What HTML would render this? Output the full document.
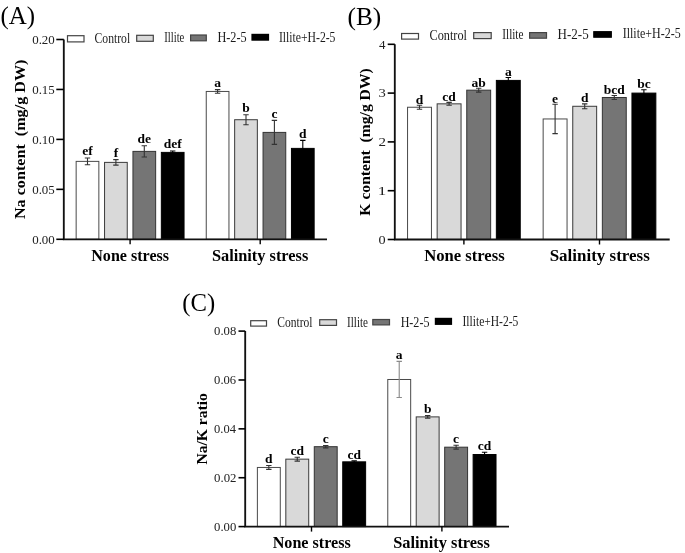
<!DOCTYPE html>
<html><head><meta charset="utf-8"><style>
html,body{margin:0;padding:0;background:#fff;}
body{width:685px;height:553px;overflow:hidden;}
svg{display:block;filter:blur(0.35px);}
</style></head><body>
<svg width="685" height="553" viewBox="0 0 685 553">
<rect width="685" height="553" fill="#fff"/>
<rect x="76.15" y="161.38" width="22.70" height="77.92" fill="#ffffff" stroke="#4a4a4a" stroke-width="1"/>
<path d="M87.50 157.98V164.77M84.80 157.98H90.20M84.80 164.77H90.20" stroke="#333" stroke-width="1.1" fill="none"/>
<text x="87.50" y="155.48" text-anchor="middle" font-family='"Liberation Serif", serif' font-weight="bold" font-size="13.5">ef</text>
<rect x="104.55" y="162.38" width="22.70" height="76.92" fill="#d9d9d9" stroke="#3a3a3a" stroke-width="1"/>
<path d="M115.90 159.58V165.17M113.20 159.58H118.60M113.20 165.17H118.60" stroke="#333" stroke-width="1.1" fill="none"/>
<text x="115.90" y="157.08" text-anchor="middle" font-family='"Liberation Serif", serif' font-weight="bold" font-size="13.5">f</text>
<rect x="132.95" y="151.39" width="22.70" height="87.91" fill="#757575" stroke="#333" stroke-width="1"/>
<path d="M144.30 145.79V156.98M141.60 145.79H147.00M141.60 156.98H147.00" stroke="#333" stroke-width="1.1" fill="none"/>
<text x="144.30" y="143.29" text-anchor="middle" font-family='"Liberation Serif", serif' font-weight="bold" font-size="13.5">de</text>
<rect x="161.35" y="152.39" width="22.70" height="86.91" fill="#000000" stroke="#000" stroke-width="1"/>
<path d="M172.70 150.99V153.79M170.00 150.99H175.40M170.00 153.79H175.40" stroke="#000" stroke-width="1.1" fill="none"/>
<text x="172.70" y="148.49" text-anchor="middle" font-family='"Liberation Serif", serif' font-weight="bold" font-size="13.5">def</text>
<rect x="206.25" y="91.45" width="22.70" height="147.85" fill="#ffffff" stroke="#4a4a4a" stroke-width="1"/>
<path d="M217.60 89.65V93.25M214.90 89.65H220.30M214.90 93.25H220.30" stroke="#333" stroke-width="1.1" fill="none"/>
<text x="217.60" y="87.15" text-anchor="middle" font-family='"Liberation Serif", serif' font-weight="bold" font-size="13.5">a</text>
<rect x="234.65" y="119.72" width="22.70" height="119.58" fill="#d9d9d9" stroke="#3a3a3a" stroke-width="1"/>
<path d="M246.00 114.72V124.71M243.30 114.72H248.70M243.30 124.71H248.70" stroke="#333" stroke-width="1.1" fill="none"/>
<text x="246.00" y="112.22" text-anchor="middle" font-family='"Liberation Serif", serif' font-weight="bold" font-size="13.5">b</text>
<rect x="263.05" y="132.41" width="22.70" height="106.89" fill="#757575" stroke="#333" stroke-width="1"/>
<path d="M274.40 120.42V144.40M271.70 120.42H277.10M271.70 144.40H277.10" stroke="#333" stroke-width="1.1" fill="none"/>
<text x="274.40" y="117.92" text-anchor="middle" font-family='"Liberation Serif", serif' font-weight="bold" font-size="13.5">c</text>
<rect x="291.45" y="148.39" width="22.70" height="90.91" fill="#000000" stroke="#000" stroke-width="1"/>
<path d="M302.80 140.40V156.38M300.10 140.40H305.50M300.10 156.38H305.50" stroke="#000" stroke-width="1.1" fill="none"/>
<text x="302.80" y="137.90" text-anchor="middle" font-family='"Liberation Serif", serif' font-weight="bold" font-size="13.5">d</text>
<path d="M63.80 39.50V239.30H327.00" stroke="#111" stroke-width="1.85" fill="none"/>
<path d="M56.30 239.30H63.80" stroke="#000" stroke-width="1.6"/>
<text x="32.18" y="243.50" textLength="22.63" lengthAdjust="spacingAndGlyphs" font-family='"Liberation Serif", serif' font-size="13.3" fill="#222" xml:space="preserve">0.00</text>
<path d="M56.30 189.35H63.80" stroke="#000" stroke-width="1.6"/>
<text x="32.18" y="193.55" textLength="22.63" lengthAdjust="spacingAndGlyphs" font-family='"Liberation Serif", serif' font-size="13.3" fill="#222" xml:space="preserve">0.05</text>
<path d="M56.30 139.40H63.80" stroke="#000" stroke-width="1.6"/>
<text x="32.18" y="143.60" textLength="22.63" lengthAdjust="spacingAndGlyphs" font-family='"Liberation Serif", serif' font-size="13.3" fill="#222" xml:space="preserve">0.10</text>
<path d="M56.30 89.45H63.80" stroke="#000" stroke-width="1.6"/>
<text x="32.18" y="93.65" textLength="22.63" lengthAdjust="spacingAndGlyphs" font-family='"Liberation Serif", serif' font-size="13.3" fill="#222" xml:space="preserve">0.15</text>
<path d="M56.30 39.50H63.80" stroke="#000" stroke-width="1.6"/>
<text x="32.18" y="43.70" textLength="22.63" lengthAdjust="spacingAndGlyphs" font-family='"Liberation Serif", serif' font-size="13.3" fill="#222" xml:space="preserve">0.20</text>
<path d="M130.10 239.30V244.30" stroke="#000" stroke-width="1.4"/>
<path d="M260.20 239.30V244.30" stroke="#000" stroke-width="1.4"/>
<text x="91.28" y="260.60" textLength="77.78" lengthAdjust="spacingAndGlyphs" font-family='"Liberation Serif", serif' font-weight="bold" font-size="16" fill="#000" xml:space="preserve">None stress</text>
<text x="211.90" y="260.60" textLength="96.39" lengthAdjust="spacingAndGlyphs" font-family='"Liberation Serif", serif' font-weight="bold" font-size="16" fill="#000" xml:space="preserve">Salinity stress</text>
<text transform="translate(25.20 219.02) rotate(-90)" x="0" y="0" textLength="159.41" lengthAdjust="spacingAndGlyphs" font-family='"Liberation Serif", serif' font-weight="bold" font-size="15.3" fill="#000" xml:space="preserve">Na content  (mg/g DW)</text>
<rect x="67.50" y="35.70" width="16.50" height="6.20" fill="#ffffff" stroke="#444" stroke-width="1.2"/>
<text x="94.53" y="43.00" textLength="35.65" lengthAdjust="spacingAndGlyphs" font-family='"Liberation Serif", serif' font-size="14" fill="#1a1a1a" xml:space="preserve">Control</text>
<rect x="136.70" y="35.30" width="16.60" height="6.00" fill="#d9d9d9" stroke="#444" stroke-width="1.2"/>
<text x="164.23" y="42.47" textLength="20.13" lengthAdjust="spacingAndGlyphs" font-family='"Liberation Serif", serif' font-size="14" fill="#1a1a1a" xml:space="preserve">Illite</text>
<rect x="190.60" y="35.00" width="15.70" height="5.80" fill="#757575" stroke="#444" stroke-width="1.2"/>
<text x="217.43" y="42.07" textLength="29.24" lengthAdjust="spacingAndGlyphs" font-family='"Liberation Serif", serif' font-size="14" fill="#1a1a1a" xml:space="preserve">H-2-5</text>
<rect x="252.00" y="34.40" width="16.50" height="5.70" fill="#000000" stroke="#000" stroke-width="1.2"/>
<text x="278.89" y="41.60" textLength="56.58" lengthAdjust="spacingAndGlyphs" font-family='"Liberation Serif", serif' font-size="14" fill="#1a1a1a" xml:space="preserve">Illite+H-2-5</text>
<text x="0.48" y="24.00" textLength="34.60" lengthAdjust="spacingAndGlyphs" font-family='"Liberation Serif", serif' font-size="25" fill="#000" xml:space="preserve">(A)</text>
<rect x="407.55" y="107.25" width="23.90" height="132.25" fill="#ffffff" stroke="#4a4a4a" stroke-width="1"/>
<path d="M419.50 105.30V109.20M416.80 105.30H422.20M416.80 109.20H422.20" stroke="#333" stroke-width="1.1" fill="none"/>
<text x="419.50" y="103.70" text-anchor="middle" font-family='"Liberation Serif", serif' font-weight="bold" font-size="13.5">d</text>
<rect x="437.15" y="103.84" width="23.90" height="135.66" fill="#d9d9d9" stroke="#3a3a3a" stroke-width="1"/>
<path d="M449.10 102.37V105.30M446.40 102.37H451.80M446.40 105.30H451.80" stroke="#333" stroke-width="1.1" fill="none"/>
<text x="449.10" y="100.77" text-anchor="middle" font-family='"Liberation Serif", serif' font-weight="bold" font-size="13.5">cd</text>
<rect x="466.75" y="90.17" width="23.90" height="149.33" fill="#757575" stroke="#333" stroke-width="1"/>
<path d="M478.70 88.22V92.12M476.00 88.22H481.40M476.00 92.12H481.40" stroke="#333" stroke-width="1.1" fill="none"/>
<text x="478.70" y="86.62" text-anchor="middle" font-family='"Liberation Serif", serif' font-weight="bold" font-size="13.5">ab</text>
<rect x="496.35" y="80.41" width="23.90" height="159.09" fill="#000000" stroke="#000" stroke-width="1"/>
<path d="M508.30 77.48V83.34M505.60 77.48H511.00M505.60 83.34H511.00" stroke="#000" stroke-width="1.1" fill="none"/>
<text x="508.30" y="75.88" text-anchor="middle" font-family='"Liberation Serif", serif' font-weight="bold" font-size="13.5">a</text>
<rect x="543.15" y="118.96" width="23.90" height="120.54" fill="#ffffff" stroke="#4a4a4a" stroke-width="1"/>
<path d="M555.10 104.32V133.60M552.40 104.32H557.80M552.40 133.60H557.80" stroke="#333" stroke-width="1.1" fill="none"/>
<text x="555.10" y="102.72" text-anchor="middle" font-family='"Liberation Serif", serif' font-weight="bold" font-size="13.5">e</text>
<rect x="572.75" y="106.28" width="23.90" height="133.22" fill="#d9d9d9" stroke="#3a3a3a" stroke-width="1"/>
<path d="M584.70 103.84V108.72M582.00 103.84H587.40M582.00 108.72H587.40" stroke="#333" stroke-width="1.1" fill="none"/>
<text x="584.70" y="102.24" text-anchor="middle" font-family='"Liberation Serif", serif' font-weight="bold" font-size="13.5">d</text>
<rect x="602.35" y="97.49" width="23.90" height="142.01" fill="#757575" stroke="#333" stroke-width="1"/>
<path d="M614.30 95.54V99.44M611.60 95.54H617.00M611.60 99.44H617.00" stroke="#333" stroke-width="1.1" fill="none"/>
<text x="614.30" y="93.94" text-anchor="middle" font-family='"Liberation Serif", serif' font-weight="bold" font-size="13.5">bcd</text>
<rect x="631.95" y="93.10" width="23.90" height="146.40" fill="#000000" stroke="#000" stroke-width="1"/>
<path d="M643.90 89.68V96.52M641.20 89.68H646.60M641.20 96.52H646.60" stroke="#000" stroke-width="1.1" fill="none"/>
<text x="643.90" y="88.08" text-anchor="middle" font-family='"Liberation Serif", serif' font-weight="bold" font-size="13.5">bc</text>
<path d="M394.80 44.30V239.50H669.70" stroke="#111" stroke-width="1.85" fill="none"/>
<path d="M387.70 239.50H394.80" stroke="#000" stroke-width="1.6"/>
<text x="378.63" y="243.70" textLength="7.14" lengthAdjust="spacingAndGlyphs" font-family='"Liberation Serif", serif' font-size="13.3" fill="#222" xml:space="preserve">0</text>
<path d="M387.70 190.70H394.80" stroke="#000" stroke-width="1.6"/>
<text x="377.66" y="194.90" textLength="8.57" lengthAdjust="spacingAndGlyphs" font-family='"Liberation Serif", serif' font-size="13.3" fill="#222" xml:space="preserve">1</text>
<path d="M387.70 141.90H394.80" stroke="#000" stroke-width="1.6"/>
<text x="378.52" y="146.10" textLength="7.50" lengthAdjust="spacingAndGlyphs" font-family='"Liberation Serif", serif' font-size="13.3" fill="#222" xml:space="preserve">2</text>
<path d="M387.70 93.10H394.80" stroke="#000" stroke-width="1.6"/>
<text x="378.47" y="97.30" textLength="7.32" lengthAdjust="spacingAndGlyphs" font-family='"Liberation Serif", serif' font-size="13.3" fill="#222" xml:space="preserve">3</text>
<path d="M387.70 44.30H394.80" stroke="#000" stroke-width="1.6"/>
<text x="378.94" y="48.50" textLength="6.45" lengthAdjust="spacingAndGlyphs" font-family='"Liberation Serif", serif' font-size="13.3" fill="#222" xml:space="preserve">4</text>
<path d="M463.90 239.50V244.50" stroke="#000" stroke-width="1.4"/>
<path d="M599.50 239.50V244.50" stroke="#000" stroke-width="1.4"/>
<text x="424.17" y="260.50" textLength="80.50" lengthAdjust="spacingAndGlyphs" font-family='"Liberation Serif", serif' font-weight="bold" font-size="16.4" fill="#000" xml:space="preserve">None stress</text>
<text x="549.67" y="260.50" textLength="100.14" lengthAdjust="spacingAndGlyphs" font-family='"Liberation Serif", serif' font-weight="bold" font-size="16.4" fill="#000" xml:space="preserve">Salinity stress</text>
<text transform="translate(370.00 215.63) rotate(-90)" x="0" y="0" textLength="147.31" lengthAdjust="spacingAndGlyphs" font-family='"Liberation Serif", serif' font-weight="bold" font-size="15.5" fill="#000" xml:space="preserve">K content  (mg/g DW)</text>
<rect x="401.60" y="33.50" width="16.90" height="5.60" fill="#ffffff" stroke="#444" stroke-width="1.2"/>
<text x="429.51" y="40.10" textLength="37.48" lengthAdjust="spacingAndGlyphs" font-family='"Liberation Serif", serif' font-size="14" fill="#1a1a1a" xml:space="preserve">Control</text>
<rect x="473.70" y="32.60" width="17.50" height="6.00" fill="#d9d9d9" stroke="#444" stroke-width="1.2"/>
<text x="502.31" y="39.38" textLength="21.16" lengthAdjust="spacingAndGlyphs" font-family='"Liberation Serif", serif' font-size="14" fill="#1a1a1a" xml:space="preserve">Illite</text>
<rect x="529.60" y="32.60" width="16.90" height="5.60" fill="#757575" stroke="#444" stroke-width="1.2"/>
<text x="557.61" y="38.84" textLength="31.09" lengthAdjust="spacingAndGlyphs" font-family='"Liberation Serif", serif' font-size="14" fill="#1a1a1a" xml:space="preserve">H-2-5</text>
<rect x="593.80" y="31.70" width="17.50" height="5.50" fill="#000000" stroke="#000" stroke-width="1.2"/>
<text x="622.68" y="38.20" textLength="58.00" lengthAdjust="spacingAndGlyphs" font-family='"Liberation Serif", serif' font-size="14" fill="#1a1a1a" xml:space="preserve">Illite+H-2-5</text>
<text x="347.46" y="25.30" textLength="33.73" lengthAdjust="spacingAndGlyphs" font-family='"Liberation Serif", serif' font-size="25" fill="#000" xml:space="preserve">(B)</text>
<rect x="257.38" y="467.46" width="22.90" height="59.14" fill="#ffffff" stroke="#4a4a4a" stroke-width="1"/>
<path d="M268.82 465.51V469.42M266.12 465.51H271.52M266.12 469.42H271.52" stroke="#333" stroke-width="1.1" fill="none"/>
<text x="268.82" y="463.31" text-anchor="middle" font-family='"Liberation Serif", serif' font-weight="bold" font-size="13.5">d</text>
<rect x="285.82" y="459.15" width="22.90" height="67.45" fill="#d9d9d9" stroke="#3a3a3a" stroke-width="1"/>
<path d="M297.27 457.20V461.11M294.57 457.20H299.97M294.57 461.11H299.97" stroke="#333" stroke-width="1.1" fill="none"/>
<text x="297.27" y="455.00" text-anchor="middle" font-family='"Liberation Serif", serif' font-weight="bold" font-size="13.5">cd</text>
<rect x="314.28" y="446.69" width="22.90" height="79.91" fill="#757575" stroke="#333" stroke-width="1"/>
<path d="M325.73 445.47V447.91M323.03 445.47H328.43M323.03 447.91H328.43" stroke="#333" stroke-width="1.1" fill="none"/>
<text x="325.73" y="443.27" text-anchor="middle" font-family='"Liberation Serif", serif' font-weight="bold" font-size="13.5">c</text>
<rect x="342.73" y="461.84" width="22.90" height="64.76" fill="#000000" stroke="#000" stroke-width="1"/>
<path d="M354.18 460.86V462.82M351.48 460.86H356.88M351.48 462.82H356.88" stroke="#000" stroke-width="1.1" fill="none"/>
<text x="354.18" y="458.66" text-anchor="middle" font-family='"Liberation Serif", serif' font-weight="bold" font-size="13.5">cd</text>
<rect x="387.77" y="379.49" width="22.90" height="147.11" fill="#ffffff" stroke="#4a4a4a" stroke-width="1"/>
<path d="M399.22 361.40V397.57M396.52 361.40H401.92M396.52 397.57H401.92" stroke="#8a8a8a" stroke-width="1.1" fill="none"/>
<text x="399.22" y="359.20" text-anchor="middle" font-family='"Liberation Serif", serif' font-weight="bold" font-size="13.5">a</text>
<rect x="416.22" y="416.88" width="22.90" height="109.72" fill="#d9d9d9" stroke="#3a3a3a" stroke-width="1"/>
<path d="M427.67 415.65V418.10M424.97 415.65H430.37M424.97 418.10H430.37" stroke="#333" stroke-width="1.1" fill="none"/>
<text x="427.67" y="413.45" text-anchor="middle" font-family='"Liberation Serif", serif' font-weight="bold" font-size="13.5">b</text>
<rect x="444.68" y="447.18" width="22.90" height="79.42" fill="#757575" stroke="#333" stroke-width="1"/>
<path d="M456.12 445.22V449.13M453.43 445.22H458.82M453.43 449.13H458.82" stroke="#333" stroke-width="1.1" fill="none"/>
<text x="456.12" y="443.02" text-anchor="middle" font-family='"Liberation Serif", serif' font-weight="bold" font-size="13.5">c</text>
<rect x="473.12" y="454.51" width="22.90" height="72.09" fill="#000000" stroke="#000" stroke-width="1"/>
<path d="M484.57 452.31V456.71M481.88 452.31H487.27M481.88 456.71H487.27" stroke="#000" stroke-width="1.1" fill="none"/>
<text x="484.57" y="450.11" text-anchor="middle" font-family='"Liberation Serif", serif' font-weight="bold" font-size="13.5">cd</text>
<path d="M245.20 331.10V526.60H509.00" stroke="#111" stroke-width="1.85" fill="none"/>
<path d="M238.50 526.60H245.20" stroke="#000" stroke-width="1.6"/>
<text x="214.09" y="530.80" textLength="22.22" lengthAdjust="spacingAndGlyphs" font-family='"Liberation Serif", serif' font-size="13.3" fill="#222" xml:space="preserve">0.00</text>
<path d="M238.50 477.73H245.20" stroke="#000" stroke-width="1.6"/>
<text x="214.09" y="481.93" textLength="22.42" lengthAdjust="spacingAndGlyphs" font-family='"Liberation Serif", serif' font-size="13.3" fill="#222" xml:space="preserve">0.02</text>
<path d="M238.50 428.85H245.20" stroke="#000" stroke-width="1.6"/>
<text x="214.10" y="433.05" textLength="21.89" lengthAdjust="spacingAndGlyphs" font-family='"Liberation Serif", serif' font-size="13.3" fill="#222" xml:space="preserve">0.04</text>
<path d="M238.50 379.98H245.20" stroke="#000" stroke-width="1.6"/>
<text x="214.10" y="384.18" textLength="22.08" lengthAdjust="spacingAndGlyphs" font-family='"Liberation Serif", serif' font-size="13.3" fill="#222" xml:space="preserve">0.06</text>
<path d="M238.50 331.10H245.20" stroke="#000" stroke-width="1.6"/>
<text x="214.09" y="335.30" textLength="22.22" lengthAdjust="spacingAndGlyphs" font-family='"Liberation Serif", serif' font-size="13.3" fill="#222" xml:space="preserve">0.08</text>
<path d="M311.50 526.60V531.60" stroke="#000" stroke-width="1.4"/>
<path d="M441.90 526.60V531.60" stroke="#000" stroke-width="1.4"/>
<text x="272.68" y="547.60" textLength="78.08" lengthAdjust="spacingAndGlyphs" font-family='"Liberation Serif", serif' font-weight="bold" font-size="16" fill="#000" xml:space="preserve">None stress</text>
<text x="393.20" y="547.60" textLength="96.69" lengthAdjust="spacingAndGlyphs" font-family='"Liberation Serif", serif' font-weight="bold" font-size="16" fill="#000" xml:space="preserve">Salinity stress</text>
<text transform="translate(207.00 464.61) rotate(-90)" x="0" y="0" textLength="71.50" lengthAdjust="spacingAndGlyphs" font-family='"Liberation Serif", serif' font-weight="bold" font-size="15.4" fill="#000" xml:space="preserve">Na/K ratio</text>
<rect x="250.70" y="320.70" width="15.80" height="5.40" fill="#ffffff" stroke="#444" stroke-width="1.2"/>
<text x="277.34" y="327.30" textLength="35.24" lengthAdjust="spacingAndGlyphs" font-family='"Liberation Serif", serif' font-size="14" fill="#1a1a1a" xml:space="preserve">Control</text>
<rect x="319.70" y="319.70" width="16.80" height="5.70" fill="#d9d9d9" stroke="#444" stroke-width="1.2"/>
<text x="347.11" y="326.89" textLength="20.85" lengthAdjust="spacingAndGlyphs" font-family='"Liberation Serif", serif' font-size="14" fill="#1a1a1a" xml:space="preserve">Illite</text>
<rect x="372.80" y="319.50" width="16.70" height="5.40" fill="#757575" stroke="#444" stroke-width="1.2"/>
<text x="400.64" y="326.57" textLength="28.82" lengthAdjust="spacingAndGlyphs" font-family='"Liberation Serif", serif' font-size="14" fill="#1a1a1a" xml:space="preserve">H-2-5</text>
<rect x="435.40" y="318.40" width="16.10" height="5.90" fill="#000000" stroke="#000" stroke-width="1.2"/>
<text x="462.50" y="326.20" textLength="55.77" lengthAdjust="spacingAndGlyphs" font-family='"Liberation Serif", serif' font-size="14" fill="#1a1a1a" xml:space="preserve">Illite+H-2-5</text>
<text x="182.29" y="311.30" textLength="32.87" lengthAdjust="spacingAndGlyphs" font-family='"Liberation Serif", serif' font-size="25" fill="#000" xml:space="preserve">(C)</text>
</svg>
</body></html>
